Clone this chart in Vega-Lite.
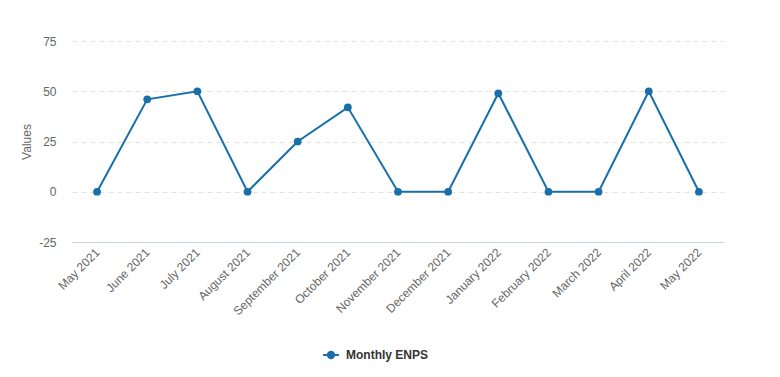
{
  "$schema": "https://vega.github.io/schema/vega-lite/v6.json",
  "width": 652,
  "height": 201,
  "autosize": {"type": "none"},
  "padding": {"left": 72, "top": 41, "right": 56, "bottom": 135},
  "background": "white",
  "config": {
    "view": {"stroke": null},
    "font": "Liberation Sans",
    "axis": {"labelFont": "Liberation Sans", "titleFont": "Liberation Sans"},
    "legend": {"labelFont": "Liberation Sans"}
  },
  "data": {
    "values": [
      {"month": "May 2021", "value": 0, "series": "Monthly ENPS"},
      {"month": "June 2021", "value": 46, "series": "Monthly ENPS"},
      {"month": "July 2021", "value": 50, "series": "Monthly ENPS"},
      {"month": "August 2021", "value": 0, "series": "Monthly ENPS"},
      {"month": "September 2021", "value": 25, "series": "Monthly ENPS"},
      {"month": "October 2021", "value": 42, "series": "Monthly ENPS"},
      {"month": "November 2021", "value": 0, "series": "Monthly ENPS"},
      {"month": "December 2021", "value": 0, "series": "Monthly ENPS"},
      {"month": "January 2022", "value": 49, "series": "Monthly ENPS"},
      {"month": "February 2022", "value": 0, "series": "Monthly ENPS"},
      {"month": "March 2022", "value": 0, "series": "Monthly ENPS"},
      {"month": "April 2022", "value": 50, "series": "Monthly ENPS"},
      {"month": "May 2022", "value": 0, "series": "Monthly ENPS"}
    ]
  },
  "mark": {"type": "line", "strokeWidth": 2, "point": {"size": 60, "filled": true, "opacity": 1}},
  "encoding": {
    "x": {
      "field": "month",
      "type": "ordinal",
      "sort": null,
      "scale": {"type": "point", "padding": 0.5},
      "axis": {
        "title": null,
        "labelAngle": -45,
        "labelAlign": "right",
        "labelBaseline": "middle",
        "labelColor": "#666666",
        "labelFontSize": 12,
        "labelPadding": 8,
        "ticks": false,
        "domainColor": "#c6d4ea",
        "domainWidth": 1,
        "grid": false
      }
    },
    "y": {
      "field": "value",
      "type": "quantitative",
      "scale": {"domain": [-25, 75], "nice": false, "zero": false},
      "axis": {
        "title": "Values",
        "titleColor": "#666666",
        "titleFontWeight": "normal",
        "titleFontSize": 12,
        "titlePadding": 5,
        "values": [-25, 0, 25, 50, 75],
        "labelExpr": "'' + datum.value",
        "labelColor": "#666666",
        "labelFontSize": 12,
        "labelPadding": 16,
        "ticks": false,
        "domain": false,
        "grid": true,
        "gridColor": "#e3e3e3",
        "gridDash": [5, 4]
      }
    },
    "color": {
      "field": "series",
      "type": "nominal",
      "scale": {"range": ["#186fa9"]},
      "legend": {
        "title": null,
        "orient": "none",
        "legendX": 250,
        "legendY": 305,
        "direction": "horizontal",
        "labelFontSize": 12,
        "labelFontWeight": "bold",
        "labelColor": "#333333",
        "labelOffset": 6,
        "symbolType": "M-1,0L1,0M-0.4,0A0.4,0.4 0 1,1 0.4,0A0.4,0.4 0 1,1 -0.4,0Z",
        "symbolSize": 250,
        "symbolStrokeWidth": 2,
        "symbolFillColor": "#186fa9"
      }
    }
  }
}
